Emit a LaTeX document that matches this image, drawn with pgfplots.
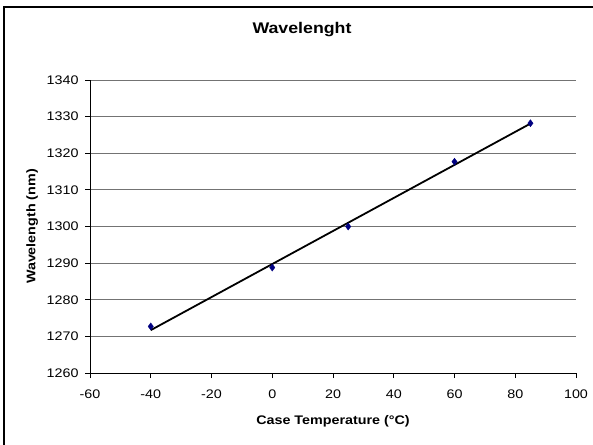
\documentclass[border=0pt]{standalone}
\usepackage{fontspec}
\setmainfont{Liberation Sans}[FakeStretch=1.15]
\usepackage{pgfplots}
\pgfplotsset{compat=1.18}
\definecolor{navy}{RGB}{0,0,128}
\begin{document}
\begin{tikzpicture}
\begin{axis}[
  at={(90bp,-373bp)}, anchor=south west,
  scale only axis, width=486bp, height=293bp,
  xmin=-60, xmax=100, ymin=1260, ymax=1340,
  xtick={-60,-40,...,100}, ytick={1260,1270,...,1340},
  axis x line*=bottom, axis y line*=left,
  axis line style={black, line width=0.9bp, -},
  tick style={black, line width=0.9bp},
  tick align=outside, major tick length=5bp,
  ymajorgrids, grid style={black!55, line width=0.8bp},
  /pgf/number format/assume math mode=true,
  /pgf/number format/1000 sep={},
  ticklabel style={font=\fontsize{12.5}{14}\selectfont},
  xticklabel style={yshift=-8bp},
  yticklabel style={xshift=-3bp},
  xlabel={Case Temperature (°C)}, ylabel={Wavelength (nm)},
  label style={font=\bfseries\fontsize{12.5}{15}\selectfont},
  x label style={at={(axis description cs:0.5,-0.164)}, anchor=center},
  y label style={at={(axis description cs:-0.119,0.5)}, anchor=center},
  clip=false,
]
\addplot[only marks, mark=diamond*, mark size=3.5bp, draw=navy, fill=navy] coordinates {
  (-40,1272.7) (0,1288.8) (25,1300.0) (60,1317.7) (85,1328.2)
};
\addplot[black, line width=1.8bp] coordinates {(-40,1271.7) (85,1328.1)};
\end{axis}
\pgfresetboundingbox
\path[use as bounding box] (0bp,0bp) rectangle (593bp,-445bp);
\draw[line width=1.5bp] (4bp,-446bp) -- (4bp,-7bp) -- (594bp,-7bp);
\node[font=\bfseries\fontsize{15.5}{17}\selectfont] at (302bp,-30bp) {Wavelenght};
\end{tikzpicture}
\end{document}
